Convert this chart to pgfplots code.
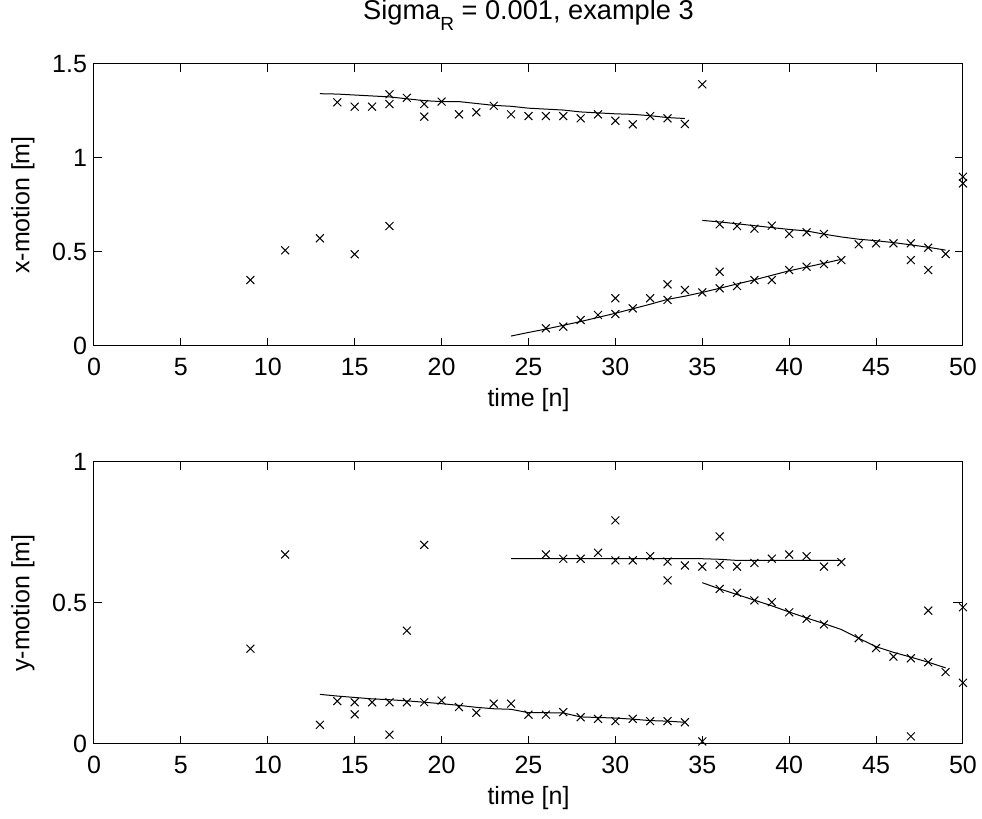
\documentclass[border=0pt]{standalone}
\usepackage{pgfplots}
\pgfplotsset{compat=1.18}
\usepackage{fontspec}
\setmainfont{Liberation Sans}
\begin{document}
\begin{tikzpicture}
\path[use as bounding box] (0,0) rectangle (491pt,409.5pt);
\pgfplotsset{
  myax/.style={
    scale only axis, width=434.5pt, height=141pt,
    anchor=south west,
    xmin=0, xmax=50,
    xtick={0,5,...,50},
    xticklabels={0,5,10,15,20,25,30,35,40,45,50},
    tick align=inside, major tick length=4pt,
    axis line style={line width=0.5pt},
    every tick/.style={line width=0.5pt, black},
    tick label style={font=\fontsize{12.5}{14}\selectfont},
    xticklabel style={yshift=-2.5pt},
    label style={font=\fontsize{12.5}{14}\selectfont},
    xlabel={time [n]},
    xlabel style={at={(axis description cs:0.5,0)}, anchor=base, yshift=-30.5pt},
    ylabel style={at={(axis description cs:-0.0817,0.5)}, anchor=center},
    clip=false,
  },
  pts/.style={only marks, mark=x, mark size=2.8pt, black, mark options={line width=0.5pt}},
  trk/.style={no marks, black, line width=0.5pt},
}
% ---------- top axis ----------
\begin{axis}[myax, at={(47pt,236.5pt)},
  ymin=0, ymax=1.5, ytick={0,0.5,1,1.5}, yticklabels={0,0.5,1,1.5},
  ylabel={x-motion [m]},
  title={Sigma\raisebox{-5.5pt}{\fontsize{9.5}{9.5}\selectfont R} = 0.001, example 3},
  title style={font=\fontsize{13.6}{15}\selectfont, at={(axis description cs:0.5,1)}, anchor=base, yshift=16pt},
]
\addplot[pts] coordinates {
(9,0.351) (11,0.509) (13,0.573) (15,0.488) (17,0.638)
(14,1.296) (15,1.273) (16,1.273) (17,1.339) (17,1.287) (18,1.32) (19,1.287) (19,1.22)
(20,1.30) (21,1.232) (22,1.243) (23,1.278) (24,1.232) (25,1.223) (26,1.223) (27,1.223)
(28,1.211) (29,1.232) (30,1.198) (31,1.179) (32,1.223) (33,1.211) (34,1.181) (35,1.392)
(50,0.90) (50,0.865)
(26,0.094) (27,0.103) (28,0.138) (29,0.165) (30,0.170) (30,0.254) (31,0.20) (32,0.254)
(33,0.245) (33,0.328) (34,0.298) (35,0.285) (36,0.307) (37,0.319) (38,0.351) (39,0.351)
(40,0.404) (41,0.422) (42,0.436) (43,0.457)
(36,0.647) (36,0.395) (37,0.638) (38,0.624) (39,0.640) (40,0.596) (41,0.605) (42,0.596)
(44,0.541) (45,0.546) (46,0.546) (47,0.546) (47,0.457) (48,0.523) (48,0.404) (49,0.489)
};
\addplot[trk] coordinates {
(13,1.342) (14,1.340) (15,1.335) (16,1.330) (17,1.325) (18,1.315) (19,1.305) (20,1.300)
(21,1.300) (22,1.290) (23,1.280) (24,1.275) (25,1.265) (26,1.260) (27,1.255) (28,1.245)
(29,1.240) (30,1.235) (31,1.232) (32,1.225) (33,1.215) (34,1.210)
};
\addplot[trk] coordinates {
(24,0.053) (25,0.072) (26,0.090) (27,0.110) (28,0.130) (29,0.152) (30,0.174) (31,0.198)
(32,0.222) (33,0.248) (34,0.265) (35,0.285) (36,0.307) (37,0.330) (38,0.352) (39,0.376)
(40,0.400) (41,0.420) (42,0.440) (43,0.461)
};
\addplot[trk] coordinates {
(35,0.668) (36,0.660) (37,0.650) (38,0.640) (39,0.630) (40,0.620) (41,0.612) (42,0.595)
(43,0.580) (44,0.568) (45,0.560) (46,0.550) (47,0.538) (48,0.525) (49,0.510)
};
\end{axis}
% ---------- bottom axis ----------
\begin{axis}[myax, at={(47pt,37.5pt)},
  ymin=0, ymax=1, ytick={0,0.5,1}, yticklabels={0,0.5,1},
  ylabel={y-motion [m]},
]
\addplot[pts] coordinates {
(9,0.338) (11,0.672) (13,0.068) (14,0.152) (15,0.148) (15,0.105) (16,0.148) (17,0.148)
(17,0.033) (18,0.148) (18,0.402) (19,0.148) (19,0.706) (20,0.154) (21,0.131) (22,0.111)
(23,0.143) (24,0.143) (25,0.104) (26,0.104) (27,0.113) (28,0.095) (29,0.089) (30,0.081)
(30,0.793) (31,0.089) (32,0.081) (33,0.081) (33,0.580) (34,0.077) (35,0.009) (47,0.027)
(26,0.672) (27,0.657) (28,0.657) (29,0.678) (30,0.651) (31,0.651) (32,0.666) (33,0.647)
(34,0.633) (35,0.629) (36,0.636) (36,0.736) (37,0.629) (38,0.642) (39,0.657) (40,0.672)
(41,0.666) (42,0.629) (43,0.645)
(36,0.550) (37,0.536) (38,0.509) (39,0.503) (40,0.467) (41,0.444) (42,0.424) (44,0.375)
(45,0.340) (46,0.310) (47,0.304) (48,0.290) (48,0.473) (49,0.255) (50,0.485) (50,0.217)
};
\addplot[trk] coordinates {
(13,0.176) (14,0.170) (15,0.165) (16,0.160) (17,0.157) (18,0.153) (19,0.148) (20,0.143)
(21,0.137) (22,0.130) (23,0.125) (24,0.123) (25,0.111) (26,0.111) (27,0.110) (28,0.096)
(29,0.094) (30,0.092) (31,0.088) (32,0.083) (33,0.081) (34,0.077)
};
\addplot[trk] coordinates {
(24,0.657) (25,0.657) (26,0.657) (27,0.657) (28,0.657) (29,0.657) (30,0.657) (31,0.657)
(32,0.657) (33,0.657) (34,0.657) (35,0.657) (36,0.655) (37,0.651) (38,0.651) (39,0.651)
(40,0.651) (41,0.651) (42,0.651) (43,0.651)
};
\addplot[trk] coordinates {
(35,0.572) (36,0.550) (37,0.530) (38,0.510) (39,0.490) (40,0.468) (41,0.447) (42,0.427)
(43,0.406) (44,0.375) (45,0.345) (46,0.325) (47,0.308) (48,0.290) (49,0.270)
};
\addplot[trk] coordinates {(49.45,0.503) (50,0.503)};
\end{axis}
\end{tikzpicture}
\end{document}
